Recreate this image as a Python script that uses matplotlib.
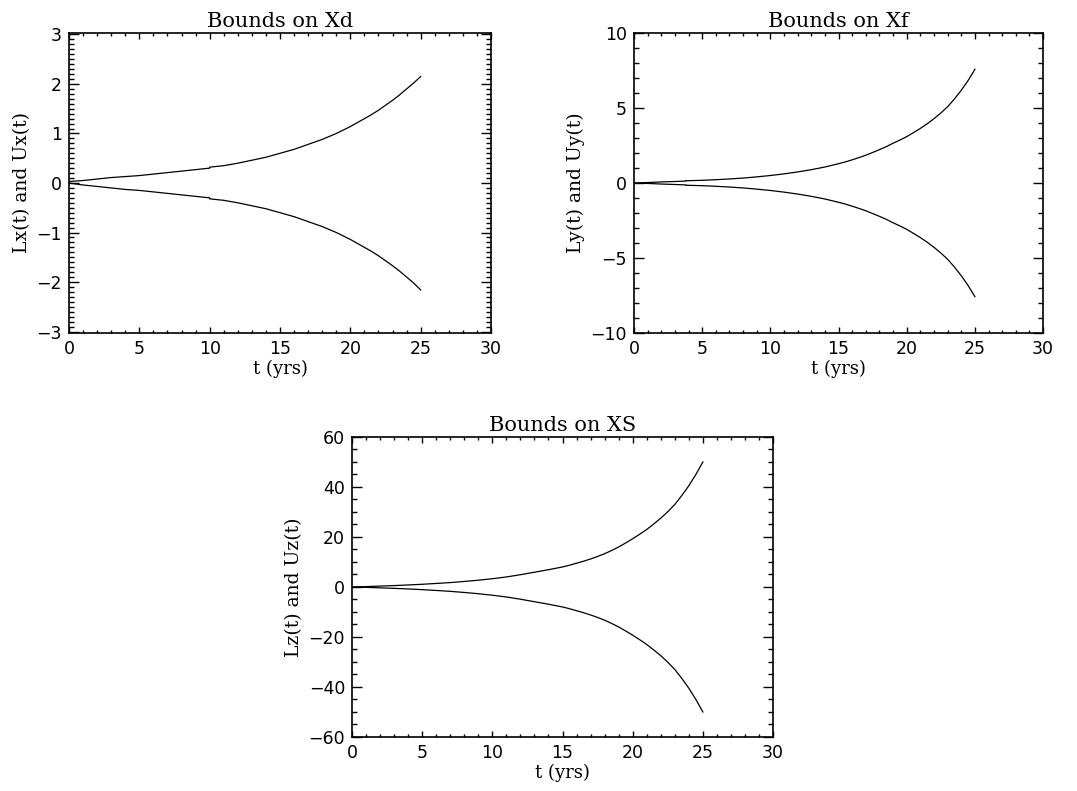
import matplotlib
matplotlib.use("Agg")
import matplotlib.pyplot as plt
from matplotlib.ticker import MultipleLocator

# time axis (years) and bounds
T_D = [0, 1, 2, 3, 4, 5, 6, 7, 8, 9, 10, 10, 11, 12, 13, 14, 15, 16, 17, 18, 19,
       20, 20.5, 21, 21.5, 22, 22.5, 23, 23.5, 24, 24.5, 25]
UX = [0.03, 0.05, 0.08, 0.11, 0.13, 0.15, 0.18, 0.21, 0.24, 0.27, 0.30, 0.32, 0.35, 0.40, 0.46, 0.52, 0.60,
      0.68, 0.78, 0.88, 1.00, 1.14, 1.22, 1.30, 1.38, 1.47, 1.57, 1.67, 1.78, 1.90, 2.02, 2.15]
LX = [0.0, -0.04, -0.07, -0.10, -0.13, -0.15, -0.18, -0.21, -0.24, -0.27, -0.30, -0.32, -0.35, -0.40, -0.46,
      -0.52, -0.60, -0.68, -0.78, -0.88, -1.00, -1.14, -1.22, -1.30, -1.38, -1.47, -1.57, -1.67, -1.78,
      -1.90, -2.02, -2.16]

T_F = [0, 1, 2, 3, 3.8, 3.8, 5, 6, 7, 8, 9, 10, 11, 12, 13, 14, 15, 15.5, 16, 16.5, 17, 17.5, 18, 18.5,
       19, 19.5, 20, 20.5, 21, 21.5, 22, 22.5, 23, 23.5, 24, 24.5, 25]
UY = [0.0, 0.03, 0.07, 0.10, 0.13, 0.15, 0.18, 0.22, 0.27, 0.33, 0.41, 0.50, 0.61, 0.74, 0.89, 1.07, 1.29,
      1.41, 1.55, 1.70, 1.86, 2.04, 2.23, 2.43, 2.66, 2.87, 3.10, 3.37, 3.65, 3.96, 4.30, 4.68, 5.10, 5.62,
      6.20, 6.85, 7.60]
LY = [-v for v in UY]

T_S = [0, 1, 2, 3, 4, 5, 6, 7, 8, 9, 10, 11, 12, 13, 14, 15, 15.5, 16, 16.5, 17, 17.5, 18, 18.5, 19, 19.5,
       20, 20.5, 21, 21.5, 22, 22.5, 23, 23.5, 24, 24.5, 25]
UZ = [0.0, 0.15, 0.35, 0.55, 0.8, 1.07, 1.4, 1.75, 2.2, 2.7, 3.3, 4.0, 4.9, 5.9, 6.9, 8.0, 8.7, 9.5, 10.3,
      11.2, 12.2, 13.3, 14.6, 16.0, 17.6, 19.3, 21.1, 23.0, 25.2, 27.5, 30.1, 33.0, 36.6, 40.5, 45.0, 50.0]
LZ = [-v for v in UZ]

SERIF = "DejaVu Serif"

fig = plt.figure(figsize=(10.77, 7.91), dpi=100)

'''
One IDL-style panel: boxed axes, inward ticks on all sides
'''
def make_panel(rect, t, upper, lower, ylim, ymajor, yminor, title, ylabel):
    ax = fig.add_axes(rect)
    ax.plot(t, upper, color="black", lw=0.9)
    ax.plot(t, lower, color="black", lw=0.9)
    ax.set_xlim(0, 30)
    ax.set_ylim(-ylim, ylim)
    ax.xaxis.set_major_locator(MultipleLocator(5))
    ax.xaxis.set_minor_locator(MultipleLocator(1))
    ax.yaxis.set_major_locator(MultipleLocator(ymajor))
    ax.yaxis.set_minor_locator(MultipleLocator(yminor))
    ax.tick_params(axis="both", which="both", direction="in", top=True, right=True, labelsize=12.5, width=1)
    ax.tick_params(axis="x", which="major", length=4.5, pad=5)
    ax.tick_params(axis="x", which="minor", length=2.5)
    ax.tick_params(axis="y", which="major", length=7, pad=5)
    ax.tick_params(axis="y", which="minor", length=3.5)
    for s in ax.spines.values():
        s.set_linewidth(1.2)
    ax.set_title(title, fontsize=15, family=SERIF, pad=4)
    ax.set_xlabel("t (yrs)", fontsize=13, family=SERIF, labelpad=1)
    ax.set_ylabel(ylabel, fontsize=13.5, family=SERIF, labelpad=4)
    return ax


make_panel([0.0641, 0.579, 0.3918, 0.3793], T_D, UX, LX, 3.03, 1, 0.1, "Bounds on Xd", "Lx(t) and Ux(t)")
make_panel([0.5887, 0.579, 0.3798, 0.3793], T_F, UY, LY, 10.03, 5, 1, "Bounds on Xf", "Ly(t) and Uy(t)")
make_panel([0.3268, 0.0683, 0.391, 0.3793], T_S, UZ, LZ, 60, 20, 5, "Bounds on XS", "Lz(t) and Uz(t)")

fig.savefig("out.png", dpi=100)
